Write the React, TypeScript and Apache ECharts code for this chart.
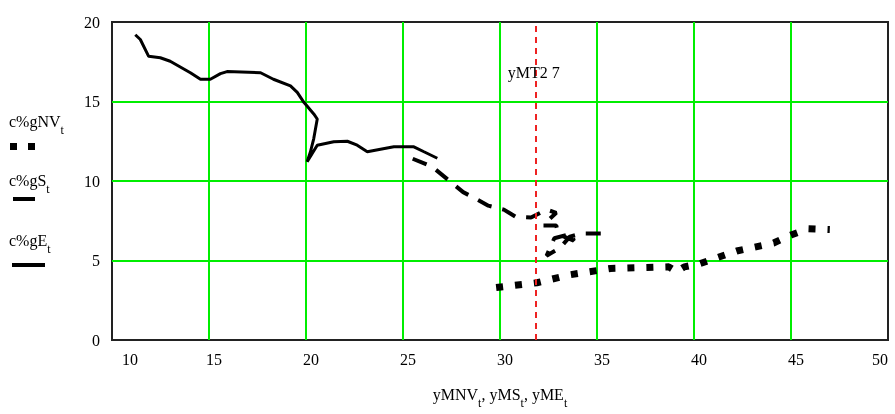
import React, { useEffect, useRef } from "react";
import * as echarts from "echarts";

const xTicks = [10, 15, 20, 25, 30, 35, 40, 45, 50];
const yTicks = [0, 5, 10, 15, 20];

// c%gE_t (solid)
const xE = [11.2, 11.46, 11.89, 12.49, 13.0, 14.04, 14.56, 15.07, 15.59, 15.93, 17.66, 18.32, 19.2, 19.55, 19.89, 20.4, 20.58, 20.4, 20.23, 20.06, 20.58, 21.43, 22.13, 22.64, 23.16, 23.84, 24.53, 25.56, 26.08, 26.77];
const yE = [19.2, 18.9, 17.84, 17.75, 17.53, 16.81, 16.4, 16.4, 16.75, 16.88, 16.81, 16.4, 15.98, 15.57, 14.95, 14.22, 13.9, 12.67, 11.84, 11.22, 12.25, 12.47, 12.5, 12.25, 11.84, 12.0, 12.15, 12.15, 11.84, 11.43];

// c%gS_t (dashed)
const xS = [25.5, 26.5, 27.0, 27.5, 28.1, 28.8, 29.4, 30.2, 30.8, 31.6, 32.4, 32.9, 32.2, 32.9, 33.0, 33.8, 33.7, 32.8, 32.4, 33.1, 33.6, 34.2, 35.2];
const yS = [11.4, 10.9, 10.4, 9.9, 9.3, 8.85, 8.45, 8.2, 7.75, 7.7, 8.2, 8.0, 7.2, 7.2, 6.65, 6.25, 6.7, 6.4, 5.3, 5.8, 6.5, 6.7, 6.7];

// c%gNV_t (dotted)
const xNV = [29.8, 31.9, 33.6, 35.7, 38.7, 39.1, 39.5, 40.3, 42.2, 44.1, 45.0, 45.9, 47.0];
const yNV = [3.3, 3.6, 4.1, 4.5, 4.6, 4.3, 4.6, 4.8, 5.6, 6.1, 6.6, 7.0, 6.95];

const markerX = 31.84;
const markerLabel = "yMT2 7";
const markerLabelY = 16.83;

const legendNames = ["c%gNV", "c%gS", "c%gE"];
const legendSub = "t";

const zip = (xs: number[], ys: number[]) => xs.map((x, i) => [x, ys[i]]);

const FONT = "'Liberation Serif', 'DejaVu Serif', serif";

export default function App() {
  const ref = useRef<HTMLDivElement>(null);
  useEffect(() => {
    if (!ref.current) return;
    const chart = echarts.init(ref.current, undefined, { renderer: "svg" });
    const legendText = (name: string, top: number) => ({
      type: "text",
      left: 9,
      top,
      style: {
        text: `{a|${name}}{s|${legendSub}}`,
        rich: {
          a: { fontSize: 16, fontFamily: FONT, fill: "#000", lineHeight: 16, verticalAlign: "top" },
          s: { fontSize: 12, fontFamily: FONT, fill: "#000", lineHeight: 23, verticalAlign: "bottom" },
        },
      },
    });
    chart.setOption({
      animation: false,
      grid: {
        left: 112,
        right: 7,
        top: 22,
        bottom: 70,
        show: true,
        borderColor: "#222",
        borderWidth: 2,
        backgroundColor: "transparent",
      },
      xAxis: {
        type: "value",
        min: xTicks[0],
        max: xTicks[xTicks.length - 1],
        interval: 5,
        axisLine: { show: false },
        axisTick: { show: false },
        splitLine: { show: true, showMinLine: false, showMaxLine: false, lineStyle: { color: "#00ee00", width: 2 } },
        axisLabel: {
          fontSize: 16,
          fontFamily: FONT,
          color: "#000",
          margin: 11,
          padding: [0, 0, 0, 10],
          alignMinLabel: "left",
          alignMaxLabel: "right",
        },
        name: "{a|yMNV}{s|t}{a|, yMS}{s|t}{a|, yME}{s|t}",
        nameLocation: "middle",
        nameGap: 46,
        nameTextStyle: {
          rich: {
            a: { fontSize: 16, fontFamily: FONT, color: "#000", lineHeight: 16, verticalAlign: "top" },
            s: { fontSize: 12, fontFamily: FONT, color: "#000", lineHeight: 23, verticalAlign: "bottom" },
          },
        },
      },
      yAxis: {
        type: "value",
        min: yTicks[0],
        max: yTicks[yTicks.length - 1],
        interval: 5,
        axisLine: { show: false },
        axisTick: { show: false },
        splitLine: { show: true, showMinLine: false, showMaxLine: false, lineStyle: { color: "#00ee00", width: 2 } },
        axisLabel: { fontSize: 16, fontFamily: FONT, color: "#000", margin: 12 },
      },
      graphic: [
        legendText(legendNames[0], 113),
        { type: "rect", shape: { x: 10, y: 143, width: 7, height: 7 }, style: { fill: "#000" } },
        { type: "rect", shape: { x: 28, y: 143, width: 7, height: 7 }, style: { fill: "#000" } },
        legendText(legendNames[1], 172),
        { type: "line", shape: { x1: 13, y1: 199, x2: 35, y2: 199 }, style: { stroke: "#000", lineWidth: 4 } },
        legendText(legendNames[2], 232),
        { type: "line", shape: { x1: 12, y1: 265, x2: 45, y2: 265 }, style: { stroke: "#000", lineWidth: 4 } },
      ],
      series: [
        {
          type: "line",
          data: zip(xNV, yNV),
          symbol: "none",
          lineStyle: { color: "#000", width: 7, type: [7, 12], cap: "butt" },
          markLine: {
            silent: true,
            symbol: "none",
            label: { show: false },
            lineStyle: { color: "#ee2222", width: 2, type: [6, 5] },
            data: [{ xAxis: markerX }],
          },
          markPoint: {
            symbol: "circle",
            symbolSize: 0,
            label: {
              show: true,
              position: "inside",
              formatter: markerLabel,
              fontSize: 16,
              fontFamily: FONT,
              color: "#000",
              offset: [-2, 0],
            },
            data: [{ coord: [markerX, markerLabelY] }],
          },
        },
        {
          type: "line",
          data: zip(xS, yS),
          symbol: "none",
          lineStyle: { color: "#000", width: 4, type: [15, 11], cap: "butt" },
        },
        {
          type: "line",
          data: zip(xE, yE),
          symbol: "none",
          lineStyle: { color: "#000", width: 3 },
        },
      ],
    });
    return () => chart.dispose();
  }, []);
  return (
    <div
      ref={ref}
      style={{ position: "fixed", left: 0, top: 0, width: 895, height: 414 }}
    />
  );
}
